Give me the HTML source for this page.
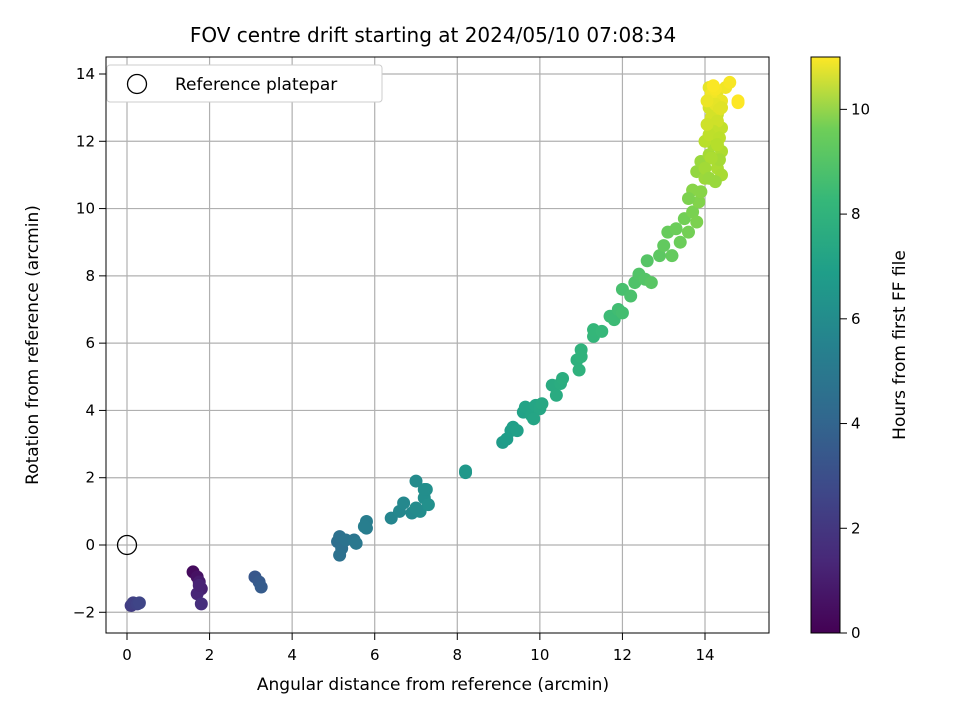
<!DOCTYPE html>
<html><head><meta charset="utf-8"><style>
body{margin:0;background:#fff;font-family:"Liberation Sans","DejaVu Sans",sans-serif}
svg text{font-family:"DejaVu Sans","Liberation Sans",sans-serif}
</style></head><body>
<svg id="chart" width="960" height="720" xmlns="http://www.w3.org/2000/svg">
<defs><linearGradient id="vir" x1="0" y1="1" x2="0" y2="0">
<stop offset="0" stop-color="#440154"/><stop offset="0.125" stop-color="#482878"/><stop offset="0.25" stop-color="#3e4989"/><stop offset="0.375" stop-color="#31688e"/><stop offset="0.5" stop-color="#26828e"/><stop offset="0.625" stop-color="#1f9e89"/><stop offset="0.75" stop-color="#35b779"/><stop offset="0.875" stop-color="#6ece58"/><stop offset="1" stop-color="#fde725"/></linearGradient></defs>
<text x="433" y="42" font-size="20" text-anchor="middle">FOV centre drift starting at 2024/05/10 07:08:34</text>
<g id="grid"></g><g id="marks"></g><g id="axes"></g>
<rect x="106" y="57" width="663" height="576" fill="none" stroke="#000" stroke-width="1"/>
<text x="433" y="690" font-size="17" text-anchor="middle">Angular distance from reference (arcmin)</text>
<text transform="translate(38,345) rotate(-90)" font-size="17" text-anchor="middle">Rotation from reference (arcmin)</text>
<g>
<rect x="107" y="65" width="275" height="37" rx="3" fill="#fff" stroke="#ccc"/>
<circle cx="137" cy="84" r="9.5" fill="none" stroke="#000" stroke-width="1.3"/>
<text x="175" y="90" font-size="17">Reference platepar</text></g>
<rect x="811" y="57" width="29" height="576" fill="url(#vir)" stroke="#000"/>
<g id="cbar"></g>
<text transform="translate(905,345) rotate(-90)" font-size="17" text-anchor="middle">Hours from first FF file</text>
</svg>
<script>
const xs=[1.6,1.7,1.75,1.8,1.7,1.8,1.75,0.1,0.15,0.25,0.3,3.1,3.2,3.25,5.1,5.15,5.2,5.15,5.3,5.5,5.55,5.8,5.8,5.75,6.4,6.6,6.7,6.9,7.0,7.1,7.2,7.25,7.3,7.2,7.0,8.2,8.2,9.1,9.2,9.3,9.35,9.45,9.6,9.65,9.8,9.9,10.0,9.85,10.05,10.3,10.4,10.5,10.55,10.9,10.95,11.0,11.0,11.3,11.3,11.5,11.7,11.8,11.9,12.0,12.0,12.2,12.3,12.4,12.55,12.6,12.7,12.9,13.0,13.1,13.2,13.3,13.4,13.5,13.6,13.7,13.8,13.85,13.7,13.8,13.9,14.0,14.1,14.2,14.3,14.4,14.4,14.3,14.2,14.4,14.3,14.1,14.2,14.3,14.4,14.5,14.6,14.8,14.8,14.1,14.2,14.0,14.35,13.9,13.6,14.15,14.25,14.35,14.05,14.15,14.3,14.2,14.1,14.25,14.4,14.35,14.05,14.2,14.3,14.15,14.0,14.25,14.1];
const ys=[-0.8,-0.95,-1.1,-1.3,-1.45,-1.75,-1.2,-1.8,-1.72,-1.75,-1.72,-0.95,-1.1,-1.25,0.1,0.25,-0.1,-0.3,0.15,0.15,0.05,0.5,0.7,0.55,0.8,1.0,1.25,0.95,1.9,1.0,1.4,1.65,1.2,1.65,1.1,2.15,2.2,3.05,3.15,3.4,3.5,3.4,3.95,4.1,3.85,4.15,4.05,3.75,4.2,4.75,4.45,4.8,4.95,5.5,5.2,5.6,5.8,6.2,6.4,6.35,6.8,6.7,7.0,6.9,7.6,7.4,7.8,8.05,7.9,8.45,7.8,8.6,8.9,9.3,8.6,9.4,9.0,9.7,9.3,9.9,9.6,10.2,10.55,11.1,11.4,10.9,11.6,11.9,11.2,11.0,11.7,12.2,12.5,12.4,12.8,13.0,13.3,13.5,13.2,13.6,13.75,13.2,13.15,13.6,12.9,12.0,11.45,10.5,10.3,13.4,13.1,12.95,13.2,12.7,12.6,12.3,12.2,13.55,13.0,12.1,12.5,13.65,11.9,11.5,11.2,10.8,10.9];
const hours=[0.3,0.5,0.8,1.0,1.2,1.5,1.1,2.0,2.1,2.2,2.3,3.0,3.1,3.2,4.0,4.1,4.05,4.1,4.2,4.3,4.4,4.6,4.65,4.7,5.0,5.1,5.15,5.2,5.3,5.35,5.4,5.45,5.5,5.4,5.3,5.8,5.85,6.0,6.05,6.1,6.15,6.2,6.3,6.35,6.4,6.45,6.5,6.45,6.55,6.7,6.75,6.8,6.85,7.0,7.05,7.1,7.1,7.25,7.3,7.35,7.5,7.5,7.6,7.65,7.75,7.8,7.9,7.95,8.0,8.05,8.1,8.2,8.3,8.4,8.35,8.5,8.5,8.6,8.65,8.75,8.8,8.9,9.0,9.2,9.3,9.35,9.5,9.6,9.6,9.55,9.65,9.8,9.9,10.0,10.1,10.3,10.5,10.6,10.7,10.8,10.9,11.0,11.0,10.6,10.3,9.85,9.5,9.0,8.8,10.8,10.6,10.5,10.7,10.3,10.2,10.0,9.95,10.9,10.5,9.9,10.2,10.95,9.8,9.6,9.45,9.3,9.3];
const xTicks=[0,2,4,6,8,10,12,14];
const yTicks=[-2,0,2,4,6,8,10,12,14];
const cTicks=[0,2,4,6,8,10];
const X=v=>127+v*(705-127)/14, Y=v=>545-v*(545-74)/14, C=v=>633-v*576/11;
const vir=[[68,1,84],[72,40,120],[62,73,137],[49,104,142],[38,130,142],[31,158,137],[53,183,121],[110,206,88],[181,222,43],[253,231,37]];
function col(h){let t=Math.max(0,Math.min(1,h/11))*(vir.length-1),i=Math.min(vir.length-2,Math.floor(t)),f=t-i;
return 'rgb('+vir[i].map((c,k)=>Math.round(c+(vir[i+1][k]-c)*f)).join(',')+')';}
const NS='http://www.w3.org/2000/svg';
function mk(p,tag,a){const e=document.createElementNS(NS,tag);for(const k in a)e.setAttribute(k,a[k]);p.appendChild(e);return e;}
const G=document.getElementById('grid'),M=document.getElementById('marks'),A=document.getElementById('axes'),CB=document.getElementById('cbar');
xTicks.forEach(t=>{const x=X(t);
const g=mk(G,'line',{x1:x,x2:x,y1:57,y2:633,stroke:'#b0b0b0','stroke-width':1.2});

mk(A,'line',{x1:x,x2:x,y1:633,y2:640,stroke:'#000'});
const tx=mk(A,'text',{x:x,y:660,'font-size':15,'text-anchor':'middle'});tx.textContent=t;
});
yTicks.forEach(t=>{const y=Y(t);
const g=mk(G,'line',{x1:106,x2:769,y1:y,y2:y,stroke:'#b0b0b0','stroke-width':1.2});

mk(A,'line',{x1:99,x2:106,y1:y,y2:y,stroke:'#000'});
const tx=mk(A,'text',{x:95,y:y+5,'font-size':15,'text-anchor':'end'});tx.textContent=(t<0?'\u2212'+(-t):t);
});
cTicks.forEach(t=>{const y=C(t);
mk(CB,'line',{x1:840,x2:847,y1:y,y2:y,stroke:'#000'});
const tx=mk(CB,'text',{x:851,y:y+5,'font-size':15});tx.textContent=t;
});
xs.forEach((v,i)=>{const c=mk(M,'circle',{cx:X(v),cy:Y(ys[i]),r:6.5,fill:col(hours[i])});
});
const r=mk(M,'circle',{cx:X(0),cy:Y(0),r:9.5,fill:'none',stroke:'#000','stroke-width':1.3});

</script>
</body></html>
